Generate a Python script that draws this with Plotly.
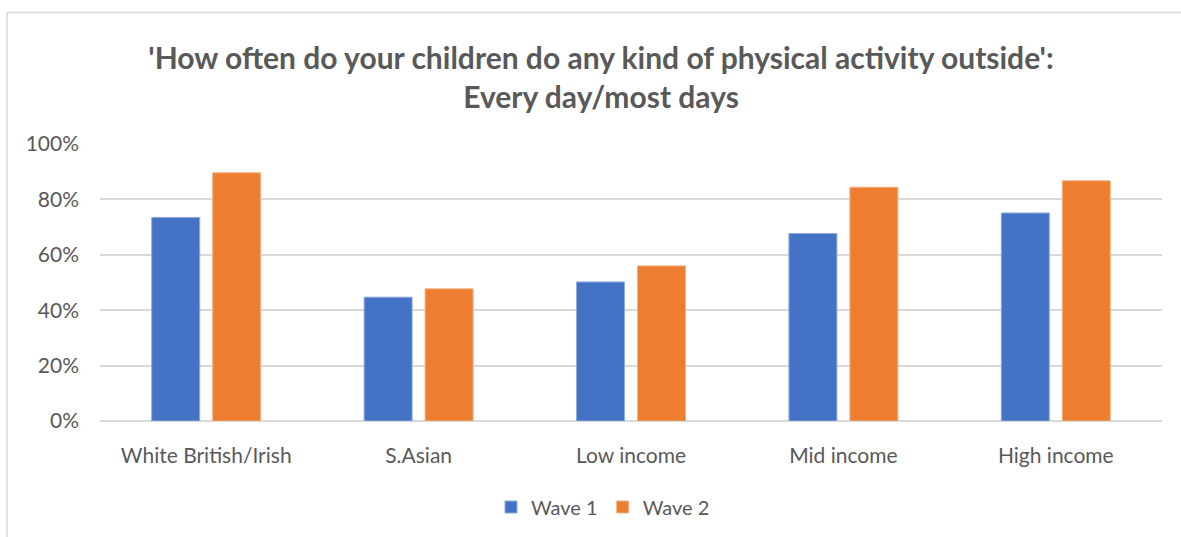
import plotly.graph_objects as go

categories = ["White British/Irish", "S.Asian", "Low income", "Mid income", "High income"]
wave1 = [73.5, 44.7, 50.2, 67.7, 75.1]
wave2 = [89.6, 47.7, 56.0, 84.4, 86.7]
series_names = ["Wave 1", "Wave 2"]
tick_vals = [0, 20, 40, 60, 80, 100]
tick_text = ["0%", "20%", "40%", "60%", "80%", "100%"]

W, H = 1181, 537
L, R, T, B = 100, 19, 144, 115
FONT = "Lato"
GRAY = "#595959"

fig = go.Figure()
fig.add_trace(go.Bar(x=categories, y=wave1, name=series_names[0],
                     marker=dict(color="#4472C4", line=dict(color="#8FAADC", width=1))))
fig.add_trace(go.Bar(x=categories, y=wave2, name=series_names[1],
                     marker=dict(color="#ED7D31", line=dict(color="#F4B183", width=1))))

pw = W - L - R
ph = H - T - B
def px(x):
    return (x - L) / pw
def py(y):
    return (H - B - y) / ph

fig.update_layout(
    width=W, height=H,
    margin=dict(l=L, r=R, t=T, b=B),
    paper_bgcolor="white", plot_bgcolor="white",
    font=dict(family=FONT, color=GRAY, size=21),
    title=dict(
        text="'How often do your children do any kind of physical activity outside':<br>Every day/most days",
        xref="container", x=601 / W, xanchor="center",
        yref="container", y=1 - 69 / H, yanchor="middle",
        font=dict(family=FONT, size=30, color=GRAY, weight="bold"),
    ),
    barmode="group", bargap=0.426, bargroupgap=0.213,
    showlegend=True,
    legend=dict(orientation="h", x=px(603), xanchor="center", y=py(507), yanchor="middle",
                font=dict(size=20, color=GRAY), itemwidth=30, traceorder="normal"),
    xaxis=dict(showgrid=False, showline=False, ticks="", ticklabelstandoff=20,
               tickfont=dict(size=21, color=GRAY)),
    yaxis=dict(range=[0, 100], tickvals=tick_vals, ticktext=tick_text,
               showgrid=True, gridcolor="#D9D9D9", gridwidth=1.5,
               zeroline=True, zerolinecolor="#D9D9D9", zerolinewidth=1.5,
               showline=False, ticks="", ticklabelstandoff=20,
               tickfont=dict(size=21, color=GRAY)),
    shapes=[
        dict(type="line", xref="paper", yref="paper", x0=px(7), x1=px(W + 5), y0=py(12), y1=py(12),
             line=dict(color="#D9D9D9", width=1.5)),
        dict(type="line", xref="paper", yref="paper", x0=px(7), x1=px(7), y0=py(12), y1=py(H + 5),
             line=dict(color="#D9D9D9", width=1.5)),
    ],
)

fig.write_html("out.html")
